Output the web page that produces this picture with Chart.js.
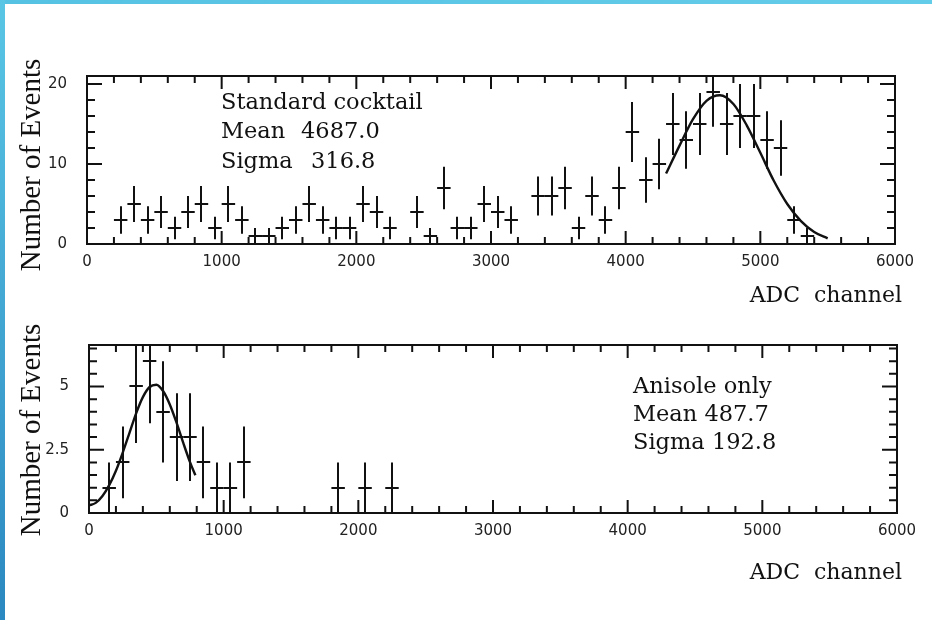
<!DOCTYPE html>
<html><head><meta charset="utf-8">
<script src="https://cdn.jsdelivr.net/npm/chart.js@4.4.1/dist/chart.umd.min.js"></script>
<style>
html,body{margin:0;padding:0;background:#fff;}
#wrap{position:relative;width:932px;height:620px;overflow:hidden;background:#fff;}
canvas{position:absolute;left:0;top:0;}
#bt{position:absolute;left:0;top:0;width:932px;height:4px;background:linear-gradient(to right,#56c2e3,#63cce9);}
#bl{position:absolute;left:0;top:0;width:5px;height:620px;background:linear-gradient(to bottom,#5ac6e5,#2b88c0);}
</style></head><body>
<div id="wrap">
<canvas id="c1" width="932" height="620" style="width:932px;height:620px"></canvas>
<canvas id="c2" width="932" height="620" style="width:932px;height:620px"></canvas>
<div id="bt"></div><div id="bl"></div>
</div>
<script>
// ---------- data ----------
const xTickValues = [0,1000,2000,3000,4000,5000,6000];
const topYTickValues = [0,10,20];
const botYTickValues = [0,2.5,5];

const topBins   = [250,350,450,550,650,750,850,950,1050,1150,1250,1350,1450,1550,1650,1750,1850,1950,2050,2150,2250,2450,2550,2650,2750,2850,2950,3050,3150,3350,3450,3550,3650,3750,3850,3950,4050,4150,4250,4350,4450,4550,4650,4750,4850,4950,5050,5150,5250,5350];
const topCounts = [3,5,3,4,2,4,5,2,5,3,1,1,2,3,5,3,2,2,5,4,2,4,1,7,2,2,5,4,3,6,6,7,2,6,3,7,14,8,10,15,13,15,19,15,16,16,13,12,3,1];

const topFitX = [4300,4400,4500,4600,4700,4800,4900,5000,5100,5200,5300,5400,5500];
const topFitY = [8.8,12.3,15.6,17.9,18.6,17.5,14.8,11.4,7.9,5.0,2.9,1.5,0.7];

const botBins   = [150,250,350,450,550,650,750,850,950,1050,1150,1850,2050,2250];
const botCounts = [1,2,5,6,4,3,3,2,1,1,2,1,1,1];

const botFitX = [0,50,100,150,200,250,300,350,400,450,500,550,600,650,700,750,790];
const botFitY = [0.3,0.4,0.67,1.1,1.67,2.38,3.16,3.94,4.58,4.98,5.07,4.82,4.29,3.57,2.77,2.01,1.49];

const topText = [["Standard cocktail",""],["Mean","4687.0"],["Sigma","316.8"]];
const botText = ["Anisole only","Mean 487.7","Sigma 192.8"];

// ---------- drawing ----------
const INK = '#111';
function histPlugin(cfg){
  return {
    id:'hist_'+cfg.name,
    afterDatasetsDraw(chart){
      const {ctx, chartArea:a, scales:{x,y}} = chart;
      ctx.save();
      ctx.beginPath(); ctx.rect(a.left, a.top-1, a.right-a.left, a.bottom-a.top+1); ctx.clip();
      ctx.strokeStyle = INK; ctx.lineWidth = 2; ctx.lineCap='butt';
      cfg.bins.forEach((b,i)=>{
        const n = cfg.counts[i], e = Math.sqrt(n);
        const px = Math.round(x.getPixelForValue(b)), py = Math.round(y.getPixelForValue(n));
        ctx.beginPath();
        ctx.moveTo(x.getPixelForValue(b-cfg.half), py); ctx.lineTo(x.getPixelForValue(b+cfg.half), py);
        ctx.moveTo(px, y.getPixelForValue(n+e)); ctx.lineTo(px, y.getPixelForValue(Math.max(0,n-e)));
        ctx.stroke();
      });
      ctx.restore();
      ctx.save();
      ctx.strokeStyle = INK; ctx.lineWidth = 2;
      ctx.strokeRect(a.left, a.top, a.right-a.left, a.bottom-a.top);
      ctx.beginPath();
      for (let v = x.min; v <= x.max + 1e-9; v += cfg.xMinor){
        const major = xTickValues.includes(Math.round(v));
        const L = major ? 13 : 7;
        const px = x.getPixelForValue(v);
        ctx.moveTo(px, a.bottom); ctx.lineTo(px, a.bottom - L);
        ctx.moveTo(px, a.top); ctx.lineTo(px, a.top + L);
      }
      for (let v = 0; v <= y.max + 1e-9; v += cfg.yMinor){
        const major = cfg.yMajor.some(m => Math.abs(m - v) < 1e-6);
        const L = major ? 15 : 8;
        const py = y.getPixelForValue(v);
        ctx.moveTo(a.left, py); ctx.lineTo(a.left + L, py);
        ctx.moveTo(a.right, py); ctx.lineTo(a.right - L, py);
      }
      ctx.stroke();
      ctx.restore();
    },
    afterDraw(chart){
      const {ctx} = chart;
      ctx.save();
      ctx.fillStyle = INK;
      ctx.font = '29px "Liberation Serif", serif';
      ctx.textAlign = 'center'; ctx.textBaseline = 'middle';
      ctx.save(); ctx.translate(cfg.yTitle[0], cfg.yTitle[1]); ctx.rotate(-Math.PI/2);
      ctx.fillText('Number of Events', 0, 0); ctx.restore();
      ctx.font = '22px "DejaVu Serif", serif';
      ctx.textAlign = 'right'; ctx.textBaseline = 'alphabetic';
      ctx.fillText('ADC  channel', cfg.xTitle[0], cfg.xTitle[1]);
      ctx.textAlign = 'left';
      ctx.font = '22.5px "DejaVu Serif", serif';
      cfg.drawStats(ctx);
      ctx.restore();
    }
  };
}

const tickFont = {family:'"DejaVu Sans", sans-serif', size:15};
function build(id, cfg){
  return new Chart(document.getElementById(id), {
    type:'scatter',
    data:{ datasets:[
      { label:'counts', data: cfg.bins.map((b,i)=>({x:b, y:cfg.counts[i]})), pointRadius:0, pointHoverRadius:0, showLine:false },
      { label:'fit', data: cfg.fitX.map((v,i)=>({x:v, y:cfg.fitY[i]})), showLine:true, pointRadius:0, borderColor:INK, borderWidth:2.4, cubicInterpolationMode:'monotone', fill:false }
    ]},
    options:{
      responsive:false, animation:false, events:[],
      layout:{ padding: cfg.padding },
      plugins:{ legend:{display:false}, tooltip:{enabled:false} },
      scales:{
        x:{ type:'linear', min:0, max:6000,
            afterBuildTicks: s => { s.ticks = xTickValues.map(v=>({value:v})); },
            afterFit: s => { s.height = 40; },
            grid:{display:false, drawTicks:false}, border:{display:false},
            ticks:{ padding:9, maxRotation:0, autoSkip:false, color:'#222', font:tickFont, callback: v => String(v) } },
        y:{ type:'linear', min:0, max:cfg.yMax,
            afterBuildTicks: s => { s.ticks = cfg.yTicks.map(v=>({value:v})); },
            afterFit: s => { s.width = cfg.yWidth; },
            grid:{display:false, drawTicks:false}, border:{display:false},
            ticks:{ padding:20, color:'#222', font:tickFont, callback: v => String(v) } }
      }
    },
    plugins:[histPlugin(cfg)]
  });
}

build('c1', {
  name:'top', bins:topBins, counts:topCounts, fitX:topFitX, fitY:topFitY, half:50,
  yMax:21, yTicks:topYTickValues, yMajor:topYTickValues, yMinor:2, xMinor:200,
  yWidth:87, padding:{left:0, right:37, top:76, bottom:620-244-40},
  yTitle:[32,165], xTitle:[902,302],
  drawStats(ctx){
    ctx.fillText(topText[0][0], 221, 109);
    ctx.fillText(topText[1][0], 221, 138); ctx.fillText(topText[1][1], 301, 138);
    ctx.fillText(topText[2][0], 221, 168); ctx.fillText(topText[2][1], 311, 168);
  }
});

build('c2', {
  name:'bot', bins:botBins, counts:botCounts, fitX:botFitX, fitY:botFitY, half:50,
  yMax:6.64, yTicks:botYTickValues, yMajor:botYTickValues, yMinor:0.5, xMinor:200,
  yWidth:89, padding:{left:0, right:35, top:345, bottom:620-513-40},
  yTitle:[32,430], xTitle:[902,579],
  drawStats(ctx){
    botText.forEach((t,i)=> ctx.fillText(t, 633, 393 + i*28));
  }
});
</script>
</body></html>
